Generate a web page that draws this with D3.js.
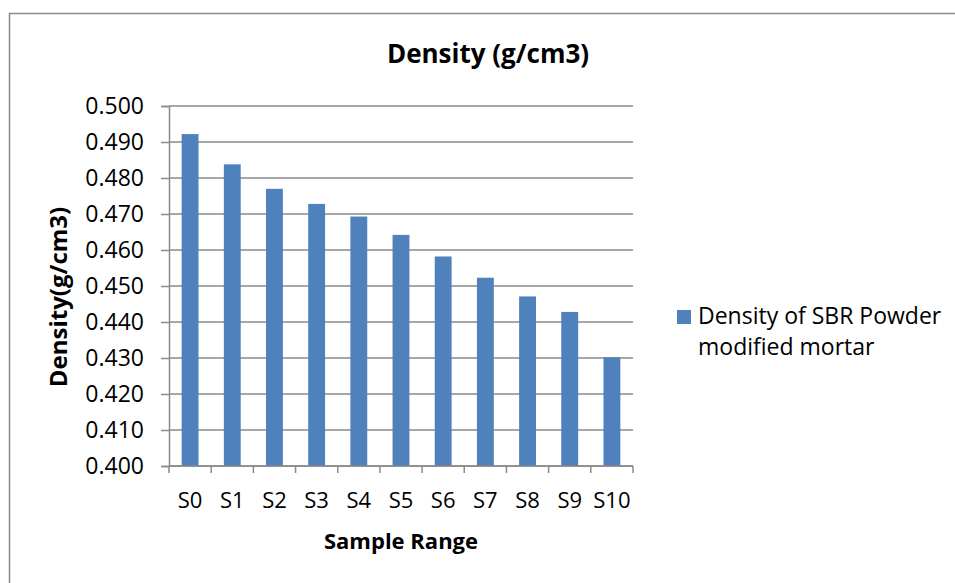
<!DOCTYPE html>
<html>
<head>
<meta charset="utf-8">
<script src="https://cdn.jsdelivr.net/npm/d3@7"></script>
<style>
  html, body { margin: 0; padding: 0; background: #fff; }
  svg { display: block; }
  text { font-family: "Open Sans", "Noto Sans", sans-serif; fill: #000; }
</style>
</head>
<body>
<svg id="chart" width="955" height="583"></svg>
<script>
// Density of SBR powder modified mortar per sample
const samples = ["S0", "S1", "S2", "S3", "S4", "S5", "S6", "S7", "S8", "S9", "S10"];
const density = [0.4922, 0.4838, 0.4770, 0.4728, 0.4693, 0.4642, 0.4582, 0.4523, 0.4471, 0.4428, 0.4302];
const yTicks = [0.400, 0.410, 0.420, 0.430, 0.440, 0.450, 0.460, 0.470, 0.480, 0.490, 0.500];
const seriesName = ["Density of SBR Powder", "modified mortar"];

const svg = d3.select("#chart");
const barColor = "#4F81BD";
const gridColor = "#8a8a8a";

// chart frame
svg.append("rect")
  .attr("x", 9.5).attr("y", 13.5)
  .attr("width", 958).attr("height", 600)
  .attr("fill", "#fff")
  .attr("stroke", "#8a8a8a")
  .attr("stroke-width", 1.5);

const plot = { left: 169, right: 633, top: 106, bottom: 466 };

const x = d3.scaleBand()
  .domain(samples)
  .range([plot.left, plot.right])
  .paddingInner(0.6)
  .paddingOuter(0.3);

const y = d3.scaleLinear()
  .domain([0.4, 0.5])
  .range([plot.bottom, plot.top]);

// horizontal gridlines
svg.append("g")
  .selectAll("line")
  .data(yTicks)
  .join("line")
  .attr("x1", plot.left).attr("x2", plot.right)
  .attr("y1", d => y(d)).attr("y2", d => y(d))
  .attr("stroke", gridColor)
  .attr("stroke-width", 1.5);

// bars
svg.append("g")
  .selectAll("rect")
  .data(samples)
  .join("rect")
  .attr("x", (d) => x(d))
  .attr("width", x.bandwidth())
  .attr("y", (d, i) => y(density[i]))
  .attr("height", (d, i) => y(0.4) - y(density[i]))
  .attr("fill", barColor);

// y axis
const yAxis = d3.axisLeft(y)
  .tickValues(yTicks)
  .tickFormat(d3.format(".3f"))
  .tickSize(8)
  .tickPadding(17);

const gy = svg.append("g")
  .attr("transform", `translate(${plot.left},0)`)
  .call(yAxis);
gy.select(".domain").attr("stroke", gridColor).attr("stroke-width", 1.5);
gy.selectAll(".tick line").attr("stroke", gridColor).attr("stroke-width", 1.5);
gy.selectAll(".tick text")
  .style("font-size", "23px")
  .attr("fill", "#000");

// x axis: tick marks at category boundaries
const gx = svg.append("g");
gx.append("line")
  .attr("x1", plot.left).attr("x2", plot.right)
  .attr("y1", plot.bottom).attr("y2", plot.bottom)
  .attr("stroke", gridColor).attr("stroke-width", 1.5);
const step = x.step();
const boundaries = d3.range(samples.length + 1).map(i => plot.left + i * step);
gx.selectAll("line.tk")
  .data(boundaries)
  .join("line")
  .attr("class", "tk")
  .attr("x1", d => d).attr("x2", d => d)
  .attr("y1", plot.bottom).attr("y2", plot.bottom + 7)
  .attr("stroke", gridColor).attr("stroke-width", 1.5);
gx.selectAll("text")
  .data(samples)
  .join("text")
  .attr("x", d => x(d) + x.bandwidth() / 2)
  .attr("y", 508)
  .attr("text-anchor", "middle")
  .style("font-size", "22px")
  .text(d => d);

// title
svg.append("text")
  .attr("x", 488).attr("y", 63)
  .attr("text-anchor", "middle")
  .style("font-size", "26px")
  .style("font-weight", "bold")
  .text("Density (g/cm3)");

// axis titles
svg.append("text")
  .attr("x", 401).attr("y", 549)
  .attr("text-anchor", "middle")
  .style("font-size", "22px")
  .style("font-weight", "bold")
  .text("Sample Range");

svg.append("text")
  .attr("transform", "translate(67,297) rotate(-90)")
  .attr("text-anchor", "middle")
  .style("font-size", "24px")
  .style("font-weight", "bold")
  .text("Density(g/cm3)");

// legend
const legend = svg.append("g");
legend.append("rect")
  .attr("x", 677).attr("y", 310)
  .attr("width", 14).attr("height", 14)
  .attr("fill", barColor);
legend.append("text")
  .attr("x", 698).attr("y", 324)
  .style("font-size", "23px")
  .selectAll("tspan")
  .data(seriesName)
  .join("tspan")
  .attr("x", 698)
  .attr("dy", (d, i) => i === 0 ? 0 : 31)
  .text(d => d);
</script>
</body>
</html>
